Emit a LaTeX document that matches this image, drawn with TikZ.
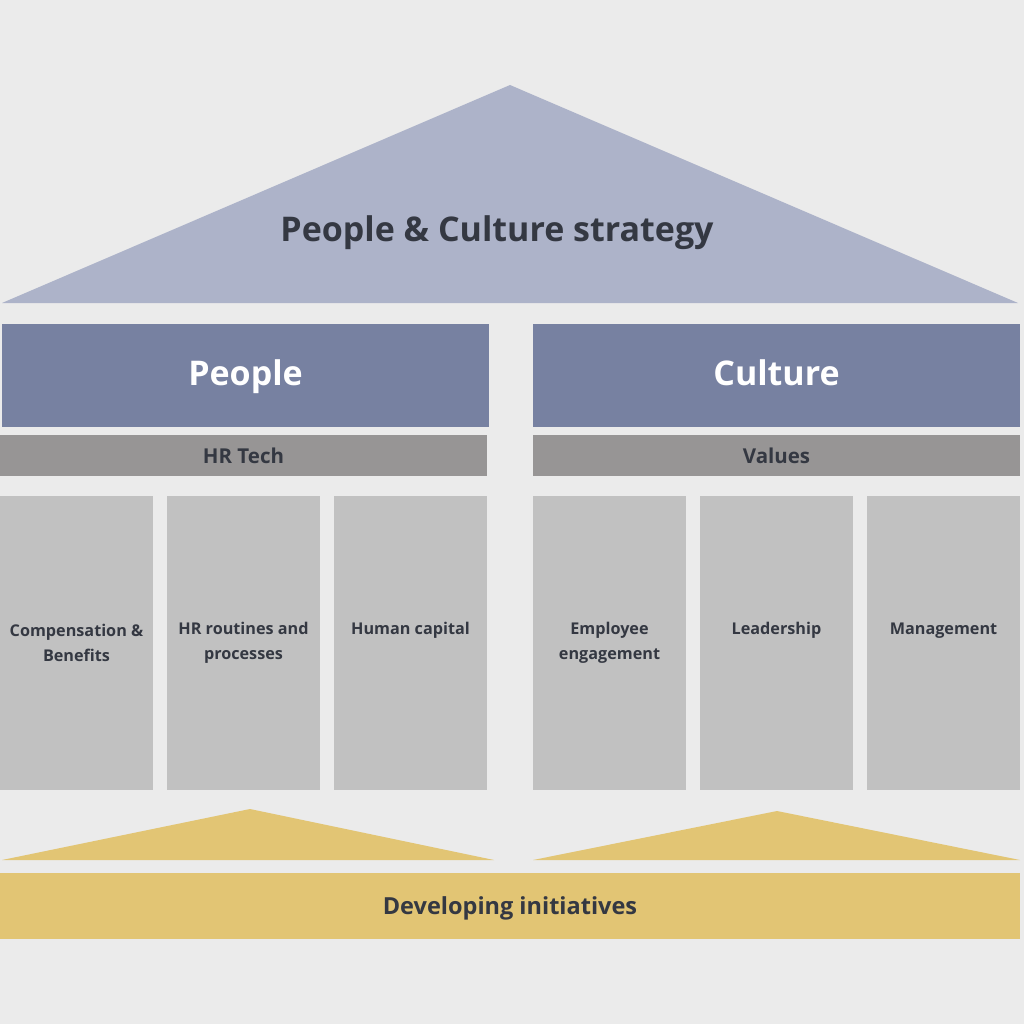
\documentclass[tikz,border=0pt]{standalone}
\usepackage{fontspec}
\setmainfont{Open Sans}
\usetikzlibrary{positioning}
\definecolor{bgcol}{HTML}{EBEBEB}
\definecolor{roofcol}{HTML}{ADB3C9}
\definecolor{headcol}{HTML}{7781A1}
\definecolor{barcol}{HTML}{979595}
\definecolor{pillarcol}{HTML}{C1C1C1}
\definecolor{goldcol}{HTML}{E2C574}
\definecolor{inkcol}{HTML}{343842}
\tikzset{
  head/.style={fill=headcol, text=white, inner sep=0pt, minimum width=487pt, minimum height=103pt, text height=27pt, text depth=7pt, font=\fontsize{34}{40}\selectfont\bfseries},
  bar/.style={fill=barcol, text=inkcol, inner sep=0pt, minimum width=487pt, minimum height=41pt, font=\fontsize{20.5}{24}\selectfont\bfseries},
  pillar/.style={fill=pillarcol, text=inkcol, inner sep=0pt, minimum width=153pt, minimum height=294pt, align=center, font=\fontsize{16.2}{25}\selectfont\bfseries}
}

\begin{document}
\begin{tikzpicture}[x=1pt,y=-1pt]
      \fill[bgcol] (0,0) rectangle (1024,1024);
      % roof
      \coordinate (roofL) at (2,303);
      \coordinate (roofR) at (1018,303);
      \coordinate (roofT) at (510,85);
      \fill[roofcol] (roofL) -- (roofT) -- (roofR) -- cycle;
      \node[text=inkcol, font=\fontsize{34}{40}\selectfont\bfseries] (strategy) at (497,233) {People \& Culture strategy};
      % heads
      \node[head] (people) at (245.5,375) {People};
      \node[head] (culture) at (776.5,375) {Culture};
      \node[bar] (hrtech) at (243.5,455.5) {HR Tech};
      \node[bar] (values) at (776.5,455.5) {Values};
      % pillars
      \node[pillar] (comp) at (76.5,643) {Compensation \&\\Benefits};
      \node[pillar] (routines) at (243.5,643) {HR routines and\\processes};
      \node[pillar] (capital) at (410.5,643) {Human capital\\\vphantom{g}};
      \node[pillar] (engage) at (609.5,643) {Employee\\engagement};
      \node[pillar] (lead) at (776.5,643) {Leadership\\\vphantom{g}};
      \node[pillar] (manage) at (943.5,643) {Management\\\vphantom{g}};
      % base
      \coordinate (baseLL) at (2,860);
      \coordinate (baseLR) at (494,860);
      \coordinate (baseLT) at (250,809);
      \coordinate (baseRL) at (533,860);
      \coordinate (baseRR) at (1020,860);
      \coordinate (baseRT) at (777,811);
      \fill[goldcol] (baseLL) -- (baseLT) -- (baseLR) -- cycle;
      \fill[goldcol] (baseRL) -- (baseRT) -- (baseRR) -- cycle;
      \node[fill=goldcol, text=inkcol, inner sep=0pt, minimum width=1020pt, minimum height=66pt, text height=19pt, text depth=3pt, font=\fontsize{23.5}{28}\selectfont\bfseries] (initiatives) at (510,906) {Developing initiatives};
\end{tikzpicture}
\end{document}
